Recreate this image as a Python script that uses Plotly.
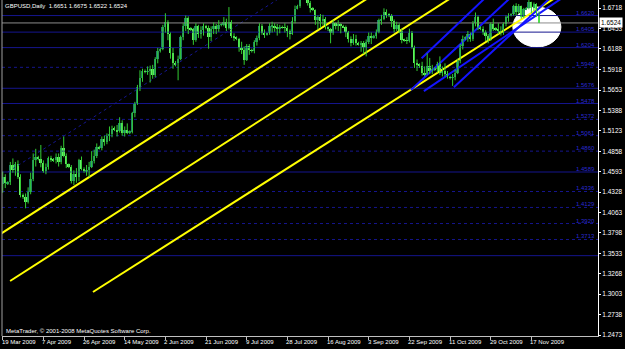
import plotly.graph_objects as go

# ---------------- data ----------------
symbol_title = "GBPUSD,Daily"
# daily bars (Sun-Fri sessions) from 19 Mar 2009 to 20 Nov 2009: (open, high, low, close)
ohlc = [
    (1.4430, 1.4595, 1.4320, 1.4520), (1.4520, 1.4560, 1.4380, 1.4440),
    (1.4440, 1.4470, 1.4420, 1.4455), (1.4455, 1.4720, 1.4420, 1.4680), (1.4680, 1.4765, 1.4580, 1.4610),
    (1.4610, 1.4720, 1.4540, 1.4690), (1.4690, 1.4740, 1.4500, 1.4530), (1.4530, 1.4560, 1.4260, 1.4290),
    (1.4290, 1.4310, 1.4240, 1.4260), (1.4260, 1.4310, 1.4118, 1.4200), (1.4200, 1.4390, 1.4180, 1.4330),
    (1.4330, 1.4580, 1.4300, 1.4500), (1.4500, 1.4830, 1.4470, 1.4740), (1.4740, 1.4890, 1.4660, 1.4780),
    (1.4780, 1.4800, 1.4740, 1.4760), (1.4760, 1.4940, 1.4650, 1.4700), (1.4700, 1.4740, 1.4580, 1.4600),
    (1.4600, 1.4700, 1.4560, 1.4660), (1.4660, 1.4790, 1.4620, 1.4770), (1.4770, 1.4800, 1.4720, 1.4750),
    (1.4750, 1.4770, 1.4720, 1.4740), (1.4740, 1.4830, 1.4700, 1.4790), (1.4790, 1.4830, 1.4660, 1.4720),
    (1.4720, 1.4930, 1.4690, 1.4900), (1.4900, 1.5050, 1.4780, 1.4800), (1.4800, 1.4830, 1.4640, 1.4690),
    (1.4690, 1.4700, 1.4640, 1.4660), (1.4660, 1.4680, 1.4440, 1.4470), (1.4470, 1.4610, 1.4420, 1.4560),
    (1.4560, 1.4640, 1.4450, 1.4520), (1.4520, 1.4760, 1.4470, 1.4740), (1.4740, 1.4790, 1.4610, 1.4630),
    (1.4630, 1.4650, 1.4580, 1.4600), (1.4600, 1.4680, 1.4540, 1.4610), (1.4610, 1.4720, 1.4520, 1.4660),
    (1.4660, 1.4860, 1.4640, 1.4730), (1.4730, 1.4880, 1.4700, 1.4800), (1.4800, 1.4960, 1.4770, 1.4910),
    (1.4910, 1.4930, 1.4880, 1.4900), (1.4900, 1.5050, 1.4870, 1.5020), (1.5020, 1.5060, 1.4930, 1.4980),
    (1.4980, 1.5090, 1.4950, 1.5060), (1.5060, 1.5180, 1.4990, 1.5080), (1.5080, 1.5190, 1.5040, 1.5150),
    (1.5150, 1.5180, 1.5120, 1.5140), (1.5140, 1.5200, 1.5050, 1.5120), (1.5120, 1.5300, 1.5100, 1.5230),
    (1.5230, 1.5260, 1.5060, 1.5090), (1.5090, 1.5180, 1.5050, 1.5130), (1.5130, 1.5220, 1.5080, 1.5100),
    (1.5100, 1.5130, 1.5080, 1.5110), (1.5110, 1.5370, 1.5090, 1.5350), (1.5350, 1.5500, 1.5300, 1.5490),
    (1.5490, 1.5720, 1.5460, 1.5690), (1.5690, 1.5910, 1.5640, 1.5810), (1.5810, 1.5930, 1.5760, 1.5900),
    (1.5900, 1.5920, 1.5870, 1.5890), (1.5890, 1.5960, 1.5850, 1.5900), (1.5900, 1.5970, 1.5750, 1.5930),
    (1.5930, 1.5980, 1.5800, 1.5850), (1.5850, 1.6080, 1.5820, 1.6050), (1.6050, 1.6200, 1.6000, 1.6160),
    (1.6160, 1.6200, 1.6140, 1.6180), (1.6180, 1.6500, 1.6170, 1.6470), (1.6470, 1.6650, 1.6400, 1.6540),
    (1.6540, 1.6560, 1.6300, 1.6380), (1.6380, 1.6400, 1.6060, 1.6130), (1.6130, 1.6200, 1.5930, 1.6000),
    (1.6000, 1.6030, 1.5960, 1.5990), (1.6000, 1.6100, 1.5780, 1.6060), (1.6060, 1.6360, 1.6040, 1.6340),
    (1.6340, 1.6520, 1.6300, 1.6480), (1.6480, 1.6620, 1.6420, 1.6590), (1.6590, 1.6610, 1.6380, 1.6450),
    (1.6450, 1.6470, 1.6420, 1.6440), (1.6440, 1.6460, 1.6240, 1.6300), (1.6300, 1.6520, 1.6280, 1.6490),
    (1.6490, 1.6500, 1.6330, 1.6380), (1.6380, 1.6480, 1.6320, 1.6430), (1.6430, 1.6520, 1.6360, 1.6480),
    (1.6480, 1.6500, 1.6440, 1.6460), (1.6460, 1.6490, 1.6190, 1.6340), (1.6340, 1.6480, 1.6290, 1.6450),
    (1.6450, 1.6530, 1.6380, 1.6480), (1.6480, 1.6510, 1.6380, 1.6440), (1.6440, 1.6560, 1.6410, 1.6500),
    (1.6500, 1.6520, 1.6480, 1.6510), (1.6510, 1.6600, 1.6480, 1.6530), (1.6530, 1.6580, 1.6420, 1.6460),
    (1.6460, 1.6730, 1.6440, 1.6540), (1.6540, 1.6560, 1.6330, 1.6350), (1.6350, 1.6390, 1.6290, 1.6340),
    (1.6340, 1.6350, 1.6300, 1.6320), (1.6320, 1.6330, 1.6150, 1.6200), (1.6200, 1.6280, 1.6120, 1.6170),
    (1.6170, 1.6220, 1.5980, 1.6040), (1.6040, 1.6250, 1.6030, 1.6220), (1.6220, 1.6250, 1.6110, 1.6170),
    (1.6170, 1.6190, 1.6140, 1.6160), (1.6160, 1.6300, 1.6130, 1.6280), (1.6280, 1.6360, 1.6230, 1.6330),
    (1.6330, 1.6520, 1.6300, 1.6490), (1.6490, 1.6510, 1.6370, 1.6400), (1.6400, 1.6440, 1.6330, 1.6380),
    (1.6380, 1.6400, 1.6360, 1.6390), (1.6390, 1.6520, 1.6370, 1.6480), (1.6480, 1.6540, 1.6400, 1.6490),
    (1.6490, 1.6520, 1.6410, 1.6470), (1.6470, 1.6510, 1.6360, 1.6440), (1.6440, 1.6500, 1.6390, 1.6470),
    (1.6470, 1.6490, 1.6450, 1.6460), (1.6460, 1.6520, 1.6400, 1.6460), (1.6460, 1.6490, 1.6340, 1.6420),
    (1.6420, 1.6440, 1.6310, 1.6380), (1.6380, 1.6600, 1.6370, 1.6550), (1.6550, 1.6750, 1.6520, 1.6710),
    (1.6710, 1.6760, 1.6700, 1.6740), (1.6740, 1.6990, 1.6720, 1.6960), (1.6960, 1.7000, 1.6880, 1.6990),
    (1.6990, 1.7043, 1.6900, 1.6950), (1.6950, 1.6980, 1.6750, 1.6780), (1.6780, 1.6810, 1.6660, 1.6720),
    (1.6720, 1.6730, 1.6680, 1.6690), (1.6690, 1.6700, 1.6500, 1.6560), (1.6560, 1.6620, 1.6440, 1.6600),
    (1.6600, 1.6640, 1.6460, 1.6550), (1.6550, 1.6630, 1.6490, 1.6580), (1.6580, 1.6600, 1.6440, 1.6470),
    (1.6470, 1.6480, 1.6420, 1.6440), (1.6440, 1.6460, 1.6260, 1.6400), (1.6400, 1.6560, 1.6370, 1.6520),
    (1.6520, 1.6530, 1.6440, 1.6480), (1.6480, 1.6560, 1.6420, 1.6510), (1.6510, 1.6520, 1.6390, 1.6480),
    (1.6480, 1.6500, 1.6460, 1.6470), (1.6470, 1.6490, 1.6340, 1.6410), (1.6410, 1.6420, 1.6270, 1.6320),
    (1.6320, 1.6350, 1.6220, 1.6260), (1.6260, 1.6380, 1.6240, 1.6320), (1.6320, 1.6370, 1.6230, 1.6260),
    (1.6260, 1.6280, 1.6230, 1.6250), (1.6250, 1.6290, 1.6150, 1.6260), (1.6260, 1.6290, 1.6120, 1.6200),
    (1.6200, 1.6310, 1.6090, 1.6280), (1.6280, 1.6400, 1.6250, 1.6360), (1.6360, 1.6400, 1.6250, 1.6330),
    (1.6330, 1.6370, 1.6320, 1.6350), (1.6350, 1.6440, 1.6320, 1.6410), (1.6410, 1.6580, 1.6390, 1.6560),
    (1.6560, 1.6630, 1.6500, 1.6580), (1.6580, 1.6714, 1.6560, 1.6660), (1.6660, 1.6700, 1.6590, 1.6640),
    (1.6640, 1.6650, 1.6600, 1.6610), (1.6610, 1.6640, 1.6470, 1.6550), (1.6550, 1.6570, 1.6400, 1.6440),
    (1.6440, 1.6540, 1.6420, 1.6500), (1.6500, 1.6520, 1.6390, 1.6420), (1.6420, 1.6450, 1.6260, 1.6300),
    (1.6300, 1.6320, 1.6280, 1.6300), (1.6300, 1.6340, 1.6250, 1.6290), (1.6290, 1.6450, 1.6270, 1.6400),
    (1.6400, 1.6420, 1.6190, 1.6210), (1.6210, 1.6230, 1.5940, 1.6000), (1.6000, 1.6050, 1.5900, 1.5990),
    (1.5990, 1.6000, 1.5940, 1.5960), (1.5960, 1.6020, 1.5840, 1.5880), (1.5880, 1.5960, 1.5830, 1.5860),
    (1.5860, 1.6130, 1.5850, 1.5970), (1.5970, 1.6070, 1.5860, 1.5900), (1.5900, 1.5980, 1.5860, 1.5930),
    (1.5930, 1.5950, 1.5900, 1.5920), (1.5920, 1.6020, 1.5880, 1.5990), (1.5990, 1.6090, 1.5850, 1.5880),
    (1.5880, 1.5960, 1.5830, 1.5900), (1.5900, 1.6000, 1.5830, 1.5860), (1.5860, 1.5900, 1.5800, 1.5820),
    (1.5820, 1.5840, 1.5790, 1.5810), (1.5810, 1.5860, 1.5707, 1.5820), (1.5820, 1.5920, 1.5780, 1.5880),
    (1.5880, 1.6060, 1.5860, 1.6030), (1.6030, 1.6250, 1.6000, 1.6230), (1.6230, 1.6360, 1.6180, 1.6320),
    (1.6320, 1.6350, 1.6300, 1.6330), (1.6330, 1.6420, 1.6280, 1.6380), (1.6380, 1.6400, 1.6280, 1.6310),
    (1.6310, 1.6550, 1.6290, 1.6520), (1.6520, 1.6660, 1.6480, 1.6600), (1.6600, 1.6620, 1.6430, 1.6460),
    (1.6460, 1.6480, 1.6430, 1.6450), (1.6450, 1.6480, 1.6370, 1.6410), (1.6410, 1.6430, 1.6290, 1.6350),
    (1.6350, 1.6380, 1.6260, 1.6300), (1.6300, 1.6530, 1.6290, 1.6510), (1.6510, 1.6580, 1.6420, 1.6450),
    (1.6450, 1.6470, 1.6420, 1.6440), (1.6440, 1.6520, 1.6380, 1.6420), (1.6420, 1.6480, 1.6360, 1.6390),
    (1.6390, 1.6530, 1.6370, 1.6510), (1.6510, 1.6620, 1.6480, 1.6600), (1.6600, 1.6650, 1.6540, 1.6620),
    (1.6620, 1.6650, 1.6610, 1.6640), (1.6640, 1.6760, 1.6620, 1.6740), (1.6740, 1.6780, 1.6620, 1.6670),
    (1.6670, 1.6770, 1.6640, 1.6740), (1.6740, 1.6750, 1.6580, 1.6600), (1.6600, 1.6720, 1.6590, 1.6700),
    (1.6700, 1.6730, 1.6690, 1.6720), (1.6720, 1.6880, 1.6700, 1.6790), (1.6790, 1.6800, 1.6650, 1.6720),
    (1.6720, 1.6790, 1.6680, 1.6770), (1.6770, 1.6780, 1.6600, 1.6651), (1.6651, 1.6675, 1.6522, 1.6524),
]
opens = [b[0] for b in ohlc]
highs = [b[1] for b in ohlc]
lows = [b[2] for b in ohlc]
closes = [b[3] for b in ohlc]
bar_idx = list(range(len(ohlc)))

# date labels (bar index of each label)
date_tick_idx = [0, 16, 32, 48, 64, 80, 96, 112, 128, 144, 160, 176, 192, 208]
date_tick_text = ["19 Mar 2009", "7 Apr 2009", "26 Apr 2009", "14 May 2009", "2 Jun 2009",
                  "21 Jun 2009", "9 Jul 2009", "28 Jul 2009", "16 Aug 2009", "3 Sep 2009",
                  "22 Sep 2009", "11 Oct 2009", "29 Oct 2009", "17 Nov 2009"]

price_ticks = [1.6718, 1.6453, 1.6188, 1.5918, 1.5653, 1.5388, 1.5123, 1.4858, 1.4593,
               1.4328, 1.4063, 1.3798, 1.3533, 1.3268, 1.3003, 1.2738, 1.2473]

# horizontal level lines: price, dotted?, label
level_prices = [1.6620, 1.6405, 1.6204, 1.5948, 1.5676, 1.5478, 1.5272, 1.5061,
                1.4860, 1.4589, 1.4336, 1.4129, 1.3920, 1.3713, 1.3503]
level_dotted = [False, False, False, True, False, False, True, True,
                True, False, True, True, True, True, False]
level_labels = ["1.6620", "1.6405", "1.6204", "1.5948", "1.5676", "1.5478", "1.5272", "1.5061",
                "1.4860", "1.4589", "1.4336", "1.4129", "1.3920", "1.3713", ""]

# yellow trend lines: (bar0, price0, bar1, price1)
yellow_lines = [
    (-3.0, 1.3740, 150.0, 1.6980),
    (2.9, 1.3174, 190.0, 1.7137),
    (35.5, 1.3031, 225.0, 1.7010),
]
# blue channel lines
blue_lines = [
    (164.8, 1.6065, 195.0, 1.7012),
    (160.6, 1.5654, 205.0, 1.7012),
    (165.7, 1.5640, 222.0, 1.6890),
    (177.5, 1.5689, 220.0, 1.6990),
]
# dotted diagonal channel line
dotted_line = (2.0, 1.4590, 115.0, 1.6974)

# ellipse: bar range and price range
ellipse_bars = (200.7, 219.6)
ellipse_prices = (1.6212, 1.6731)

x_range = (-0.28, 234.2)
y_range = (1.2460, 1.6822)

# ---------------- figure ----------------
FONT = "Liberation Sans"
LEVEL_BLUE = "#15158e"
fig = go.Figure()

fig.add_shape(type="circle", xref="x", yref="y",
              x0=ellipse_bars[0], x1=ellipse_bars[1], y0=ellipse_prices[0], y1=ellipse_prices[1],
              fillcolor="white", line=dict(color="white", width=1), layer="below")

for p, dotted in zip(level_prices, level_dotted):
    fig.add_trace(go.Scatter(x=[x_range[0], x_range[1]], y=[p, p], mode="lines",
                             line=dict(color=LEVEL_BLUE, width=1, dash="dot" if dotted else "solid"),
                             hoverinfo="skip", showlegend=False))

fig.add_trace(go.Scatter(x=[dotted_line[0], dotted_line[2]], y=[dotted_line[1], dotted_line[3]],
                         mode="lines", line=dict(color=LEVEL_BLUE, width=1, dash="dot"),
                         hoverinfo="skip", showlegend=False))

# current price line
fig.add_trace(go.Scatter(x=[x_range[0], x_range[1]], y=[closes[-1], closes[-1]], mode="lines",
                         line=dict(color="#8c8c8c", width=1), hoverinfo="skip", showlegend=False))

for (a0, p0, a1, p1) in yellow_lines:
    fig.add_trace(go.Scatter(x=[a0, a1], y=[p0, p1], mode="lines",
                             line=dict(color="#ffff00", width=2), hoverinfo="skip", showlegend=False))
for (a0, p0, a1, p1) in blue_lines:
    fig.add_trace(go.Scatter(x=[a0, a1], y=[p0, p1], mode="lines",
                             line=dict(color="#1414ff", width=2), hoverinfo="skip", showlegend=False))

# candles: wicks + bodies
wick_x, wick_y = [], []
for i, h, l in zip(bar_idx, highs, lows):
    wick_x += [i, i, None]
    wick_y += [l, h, None]
fig.add_trace(go.Scatter(x=wick_x, y=wick_y, mode="lines", line=dict(color="#33cc33", width=1),
                         hoverinfo="skip", showlegend=False))
body_base = [min(o, c) for o, c in zip(opens, closes)]
body_len = [max(abs(c - o), 0.0004) for o, c in zip(opens, closes)]
body_col = ["#1f8068" if c > o else "#66f266" for o, c in zip(opens, closes)]
fig.add_trace(go.Bar(x=bar_idx, y=body_len, base=body_base, width=0.72,
                     marker=dict(color=body_col, line=dict(width=0)),
                     hoverinfo="skip", showlegend=False))

annotations = []
for p, lab in zip(level_prices, level_labels):
    if lab:
        annotations.append(dict(xref="paper", yref="y", x=1, y=p, xanchor="right", yanchor="bottom",
                                text=lab, showarrow=False, xshift=-1, yshift=-2,
                                font=dict(family=FONT, size=6, color="#2a2ad0")))
for idx, txt in zip(date_tick_idx, date_tick_text):
    annotations.append(dict(xref="x", yref="paper", x=idx, y=0, xanchor="left", yanchor="top",
                            text=txt, showarrow=False, xshift=-3, yshift=-1,
                            font=dict(family=FONT, size=6, color="white")))
annotations.append(dict(xref="paper", yref="paper", x=0, y=1, xanchor="left", yanchor="top",
                        text=f"{symbol_title}  {opens[-1]:.4f} {highs[-1]:.4f} {lows[-1]:.4f} {closes[-1]:.4f}",
                        showarrow=False, xshift=1, yshift=-1,
                        font=dict(family=FONT, size=6, color="white")))
annotations.append(dict(xref="paper", yref="paper", x=0, y=0, xanchor="left", yanchor="bottom",
                        text="MetaTrader, © 2001-2008 MetaQuotes Software Corp.",
                        showarrow=False, xshift=2, yshift=0,
                        font=dict(family=FONT, size=6, color="white")))
annotations.append(dict(xref="paper", yref="y", x=1, y=closes[-1], xanchor="left", yanchor="middle",
                        text=f"{closes[-1]:.4f}", showarrow=False, xshift=1,
                        bgcolor="white", borderpad=1,
                        font=dict(family=FONT, size=6.5, color="black")))

shapes = [dict(type="line", xref="paper", yref="paper", x0=0, x1=0, y0=0, y1=1,
               line=dict(color="#a0a0a0", width=1))]

fig.update_layout(
    width=625, height=349,
    margin=dict(l=2, r=27, t=0, b=13),
    paper_bgcolor="black", plot_bgcolor="black",
    showlegend=False, bargap=0,
    annotations=annotations,
    shapes=list(fig.layout.shapes) + shapes,
    xaxis=dict(range=list(x_range), showgrid=False, zeroline=False,
               tickmode="array", tickvals=date_tick_idx, ticktext=[""] * len(date_tick_idx),
               ticks="outside", ticklen=3, tickcolor="#c0c0c0",
               showline=True, linecolor="#c0c0c0", linewidth=1),
    yaxis=dict(range=list(y_range), side="right", showgrid=False, zeroline=False,
               tickmode="array", tickvals=price_ticks, ticktext=[f"{v:.4f}" for v in price_ticks],
               ticks="outside", ticklen=2, tickcolor="white",
               tickfont=dict(family=FONT, size=6.5, color="white"),
               showline=True, linecolor="white", linewidth=1),
)

fig.write_html("out.html")
